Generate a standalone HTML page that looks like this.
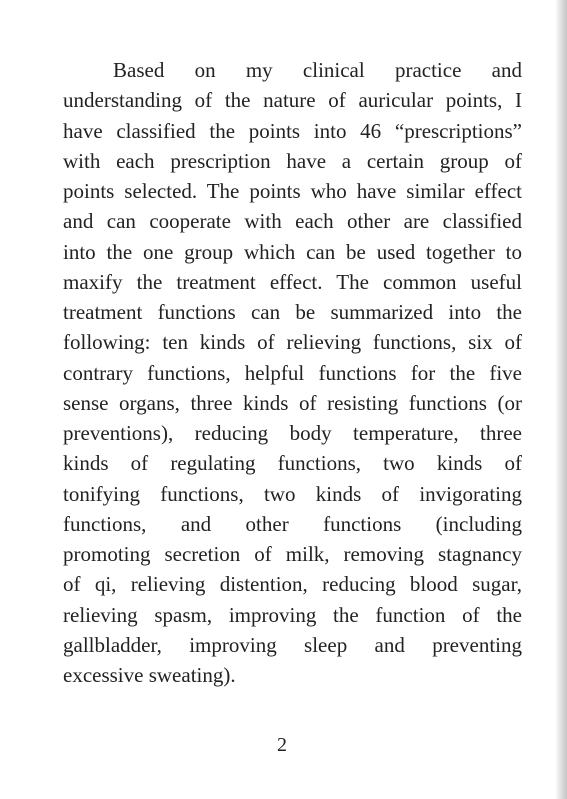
<!DOCTYPE html>
<html><head><meta charset="utf-8"><style>
html,body{margin:0;padding:0;}
body{width:567px;height:799px;background:#fff;position:relative;overflow:hidden;font-family:"Liberation Serif",serif;color:#222;}
.l{position:absolute;left:63px;width:459px;font-size:21px;line-height:30px;height:30px;text-align:justify;text-align-last:justify;white-space:nowrap;}
.edge{position:absolute;right:0;top:0;width:12px;height:799px;background:linear-gradient(to right,#fff,#e0e0e0 50%,#c4c4c4);}
.pn{position:absolute;left:277px;top:734px;font-size:20px;}
</style></head><body>
<div class="edge"></div>
<div>
<div class="l" style="top:55px;left:113px;width:409px">Based on my clinical practice and</div>
<div class="l" style="top:85.25px">understanding of the nature of auricular points, I</div>
<div class="l" style="top:115.5px">have classified the points into 46 “prescriptions”</div>
<div class="l" style="top:145.75px">with each prescription have a certain group of</div>
<div class="l" style="top:176px">points selected. The points who have similar effect</div>
<div class="l" style="top:206.25px">and can cooperate with each other are classified</div>
<div class="l" style="top:236.5px">into the one group which can be used together to</div>
<div class="l" style="top:266.75px">maxify the treatment effect. The common useful</div>
<div class="l" style="top:297px">treatment functions can be summarized into the</div>
<div class="l" style="top:327.25px">following: ten kinds of relieving functions, six of</div>
<div class="l" style="top:357.5px">contrary functions, helpful functions for the five</div>
<div class="l" style="top:387.75px">sense organs, three kinds of resisting functions (or</div>
<div class="l" style="top:418px">preventions), reducing body temperature, three</div>
<div class="l" style="top:448.25px">kinds of regulating functions, two kinds of</div>
<div class="l" style="top:478.5px">tonifying functions, two kinds of invigorating</div>
<div class="l" style="top:508.75px">functions, and other functions (including</div>
<div class="l" style="top:539px">promoting secretion of milk, removing stagnancy</div>
<div class="l" style="top:569.25px">of qi, relieving distention, reducing blood sugar,</div>
<div class="l" style="top:599.5px">relieving spasm, improving the function of the</div>
<div class="l" style="top:629.75px">gallbladder, improving sleep and preventing</div>
<div class="l" style="top:660px;text-align:left;text-align-last:left">excessive sweating).</div>
</div>
<div class="pn">2</div>
</body></html>
